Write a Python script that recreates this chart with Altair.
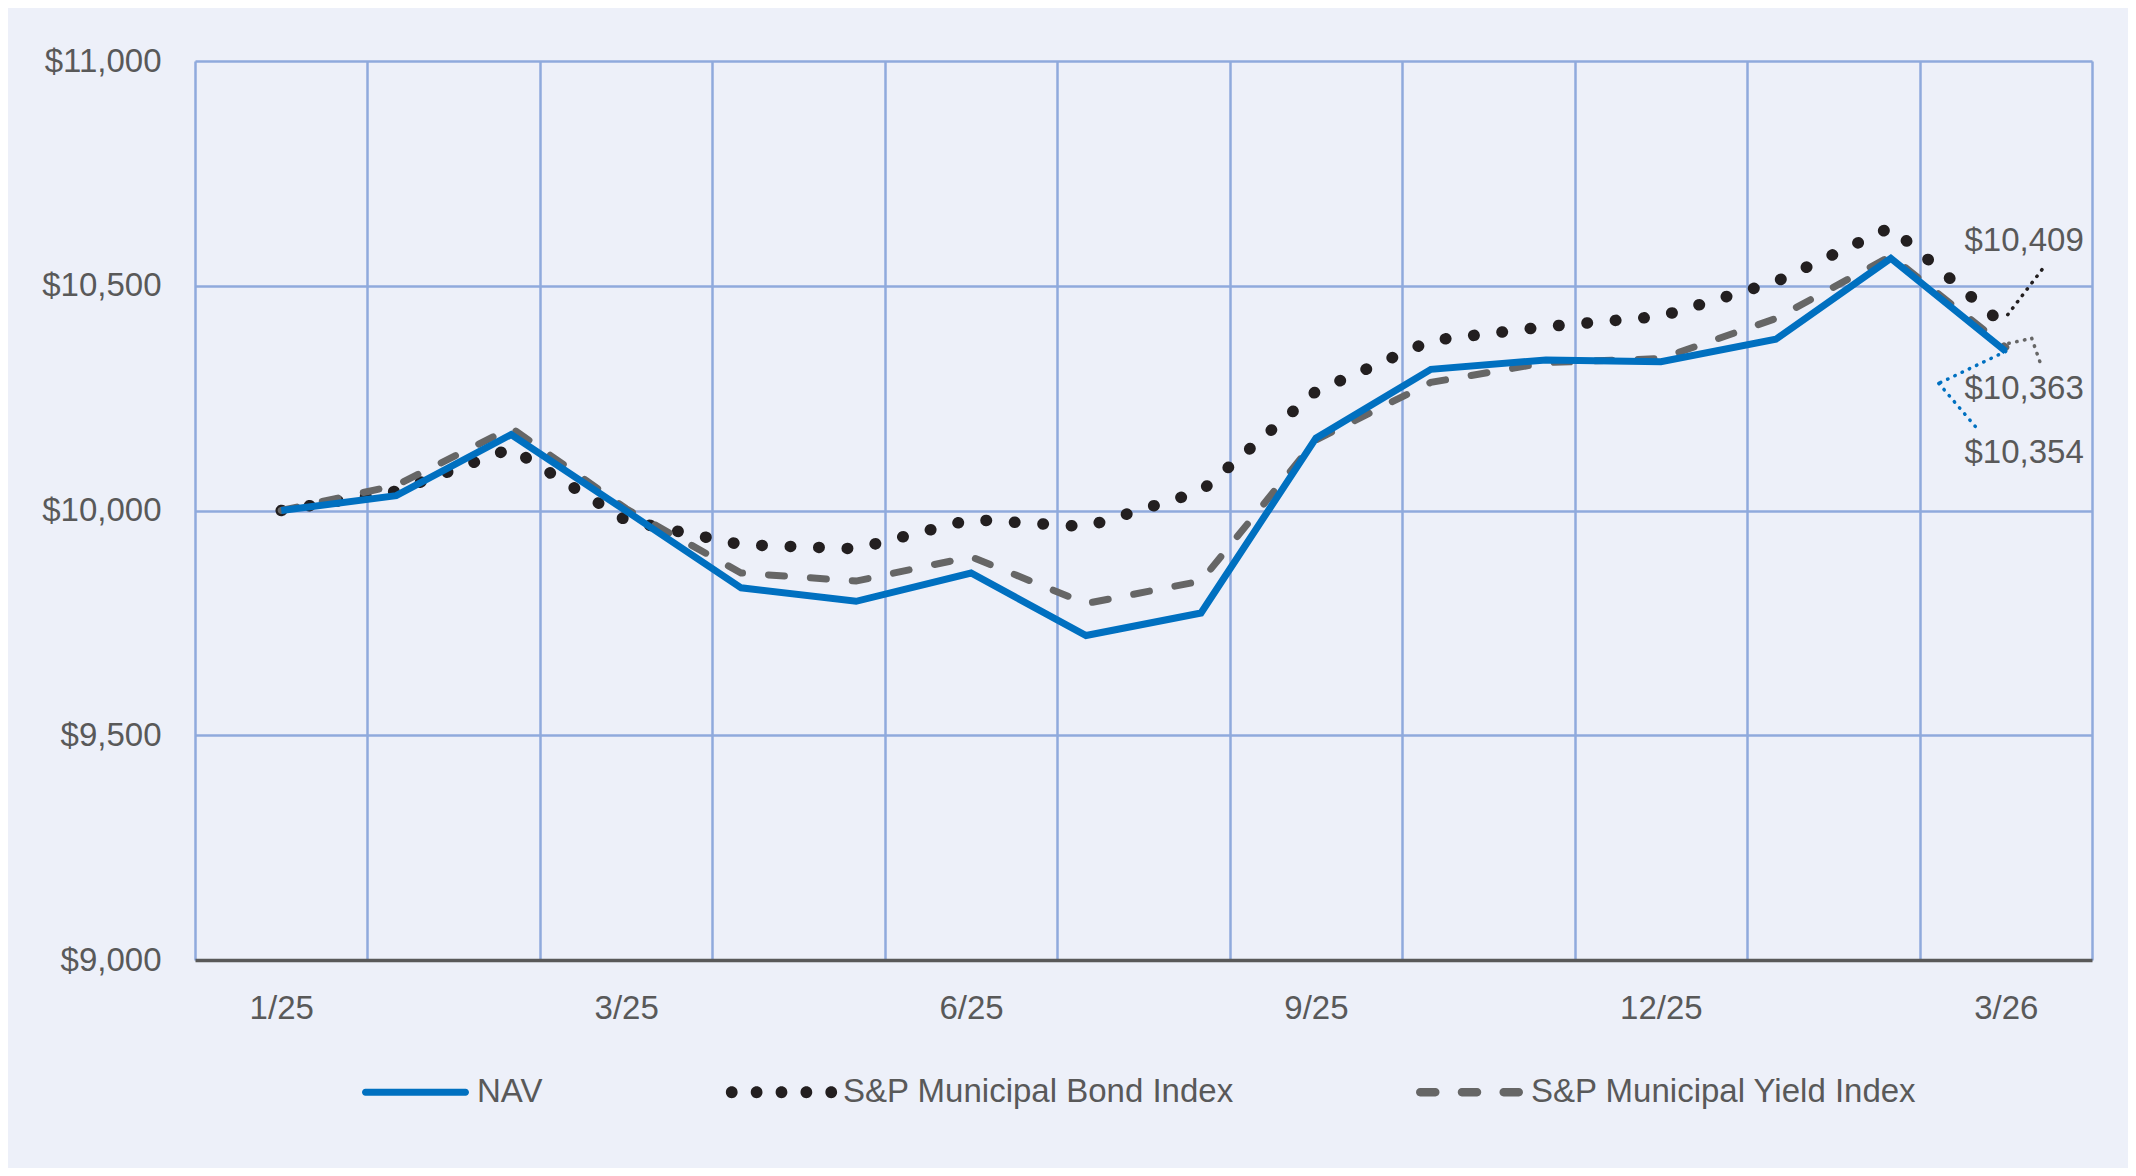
import json
import altair as alt
import pandas as pd

# ---------------- data ----------------
x_idx = list(range(16))
nav = [10000, 10033, 10169, 9999, 9828, 9798, 9861, 9722, 9772, 10161, 10314, 10335, 10331, 10381, 10561, 10354]
bond = [10000, 10043, 10138, 9978, 9924, 9915, 9980, 9964, 10043, 10265, 10378, 10409, 10432, 10509, 10630, 10409]
yld = [10000, 10056, 10184, 10004, 9861, 9843, 9897, 9793, 9843, 10157, 10285, 10329, 10338, 10427, 10566, 10363]
series_names = ["NAV", "S&P Municipal Bond Index", "S&P Municipal Yield Index"]
series_colors = ["#0070C0", "#231F20", "#666666"]
tick_labels = ["1/25", "3/25", "6/25", "9/25", "12/25", "3/26"]
tick_at = [0, 3, 6, 9, 12, 15]
y_ticks = [9000, 9500, 10000, 10500, 11000]

# ---------------- styling ----------------
W, H = 1897, 899
PAD_L, PAD_T = 187, 53
PAD_R = 2136 - 16 - PAD_L - W
PAD_B = 1176 - 16 - PAD_T - H
BG = "#EDF0F9"
GRID = "#8FAADC"
TXT = "#595959"
FONT = "Liberation Sans"
FS = 33
XMIN, XMAX = -0.75, 15.75
STEP = W / (XMAX - XMIN)

rows = []
for name, vals in zip(series_names, [nav, bond, yld]):
    for i, v in zip(x_idx, vals):
        rows.append({"i": i, "value": v, "series": name})
df = pd.DataFrame(rows)

lab = [""] * len(x_idx)
for t, i in zip(tick_labels, tick_at):
    lab[i] = t
label_expr = f"{json.dumps(lab)}[round(datum.value + 0.75)] || ''"
grid_x = [XMIN + 1.5 * k for k in range(12)]

x_enc = alt.X(
    "i:Q",
    scale=alt.Scale(domain=[XMIN, XMAX], nice=False, zero=False),
    axis=alt.Axis(
        values=grid_x, grid=True, gridColor=GRID, gridWidth=2.5,
        ticks=False, domain=True, domainColor=TXT, domainWidth=3.5,
        labelExpr=label_expr, labelOffset=0.75 * STEP, labelPadding=32,
        labelFontSize=FS, labelColor=TXT, labelFont=FONT, title=None,
        labelOverlap=False, labelFlush=False, labelBound=False,
    ),
)
y_enc = alt.Y(
    "value:Q",
    scale=alt.Scale(domain=[9000, 11000], nice=False, zero=False),
    axis=alt.Axis(
        values=y_ticks, format="$,.0f", grid=True,
        gridColor={"condition": {"test": "datum.value == 9000", "value": "transparent"}, "value": GRID},
        gridWidth=2.5, ticks=False, domain=False, labelPadding=34,
        labelFontSize=FS, labelColor=TXT, labelFont=FONT, title=None,
    ),
)


def sdata(name):
    return df[df["series"] == name]


bond_line = alt.Chart(sdata(series_names[1])).mark_line(
    color=series_colors[1], strokeWidth=11.5, strokeDash=[0.5, 28], strokeCap="round"
).encode(x=x_enc, y=y_enc)
yld_line = alt.Chart(sdata(series_names[2])).mark_line(
    color=series_colors[2], strokeWidth=7, strokeDash=[16, 26], strokeCap="round"
).encode(x=x_enc, y=y_enc)
nav_line = alt.Chart(sdata(series_names[0])).mark_line(
    color=series_colors[0], strokeWidth=7, strokeJoin="miter"
).encode(x=x_enc, y=y_enc)


# ---------------- legend via custom symbols ----------------
def capsule(a, b, h):
    return (f"M{a + h},{-h}H{b - h}A{h},{h} 0 0 1 {b - h},{h}"
            f"H{a + h}A{h},{h} 0 0 1 {a + h},{-h}Z")


def circle(cx, r):
    return f"M{cx - r},0A{r},{r} 0 1,0 {cx + r},0A{r},{r} 0 1,0 {cx - r},0Z"


sym_nav = capsule(-1, 1, 0.065)
sym_bond = "".join(circle(c, 0.11) for c in [-0.93, -0.465, 0, 0.465, 0.93])
sym_yld = capsule(-1, -0.56, 0.078) + capsule(-0.22, 0.22, 0.078) + capsule(0.56, 1, 0.078)
SYM = 107

leg = alt.Legend(
    orient="none", legendX=362 - 195, legendY=1092 - 61 - SYM / 2, direction="horizontal",
    title=None, labelFontSize=FS, labelColor=TXT, labelFont=FONT, labelOffset=8,
    columnPadding=182, symbolSize=SYM * SYM, symbolStrokeWidth=0, symbolOpacity=1,
    padding=0, labelLimit=1000,
)
legend_layer = alt.Chart(df).mark_point(filled=True, opacity=0, size=SYM * SYM).encode(
    x=x_enc, y=y_enc,
    color=alt.Color("series:N", scale=alt.Scale(domain=series_names, range=series_colors), legend=leg),
    shape=alt.Shape("series:N", scale=alt.Scale(domain=series_names, range=[sym_nav, sym_bond, sym_yld]), legend=leg),
)

# ---------------- end labels and leader lines ----------------
end_df = pd.DataFrame({
    "i": [x_idx[-1]] * 3,
    "value": [nav[-1], bond[-1], yld[-1]],
    "series": series_names,
})
label_dy = {series_names[1]: -86, series_names[2]: 42, series_names[0]: 102}
texts = []
for name in series_names:
    texts.append(
        alt.Chart(end_df[end_df["series"] == name]).mark_text(
            align="right", baseline="middle", dx=78, dy=label_dy[name],
            fontSize=FS, font=FONT, color=TXT,
        ).encode(x=x_enc, y=y_enc, text=alt.Text("value:Q", format="$,.0f"))
    )

# leader segments: (series, start offset, end offset) in pixels from the end point
leaders = [
    (series_names[1], (2, -12), (40, -62)),
    (series_names[2], (3, -4), (26, -9)),
    (series_names[2], (26, -9), (35, 17)),
    (series_names[0], (0, 0), (-67, 32)),
    (series_names[0], (-67, 32), (-28, 78)),
]
color_of = dict(zip(series_names, series_colors))
rules = []
for name, (sx, sy), (ex, ey) in leaders:
    rules.append(
        alt.Chart(end_df[end_df["series"] == name]).mark_rule(
            color=color_of[name], strokeWidth=3.5, strokeDash=[0.5, 7.5], strokeCap="round",
            xOffset=sx, yOffset=sy, x2Offset=ex, y2Offset=ey,
        ).encode(x=x_enc, y=y_enc, x2="i:Q", y2="value:Q")
    )

chart = alt.layer(
    legend_layer, bond_line, yld_line, nav_line, *rules, *texts
).properties(
    width=W, height=H,
    autosize=alt.AutoSizeParams(type="none"),
    padding={"left": PAD_L, "top": PAD_T, "right": PAD_R, "bottom": PAD_B},
    background=BG,
).configure_view(stroke=None).configure(font=FONT)

chart.save("out.html", embed_options={"renderer": "svg", "actions": False})
